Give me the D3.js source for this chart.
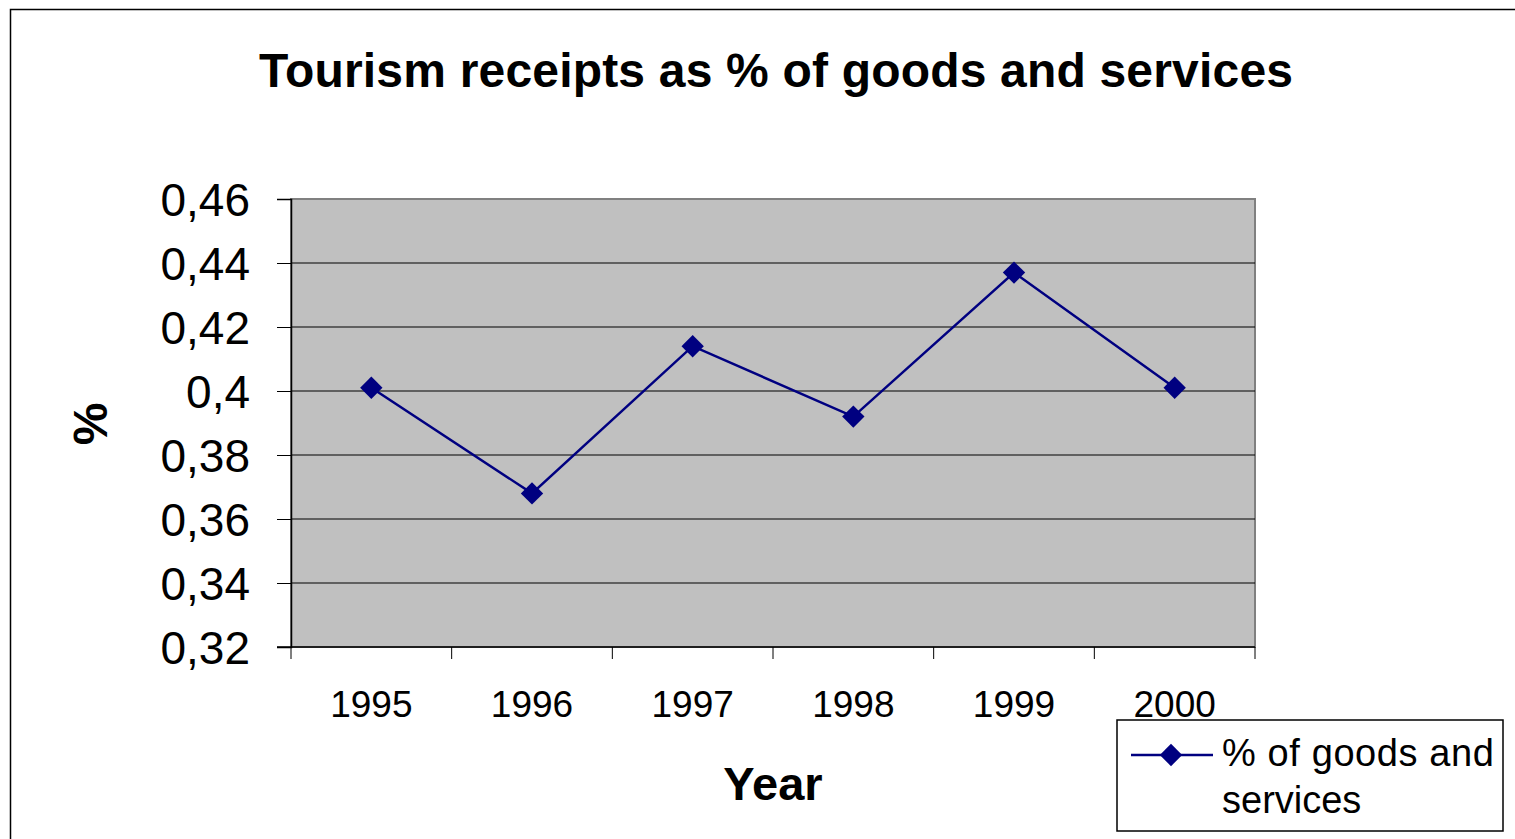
<!DOCTYPE html>
<html>
<head>
<meta charset="utf-8">
<script src="https://cdn.jsdelivr.net/npm/d3@7"></script>
<style>
  body { margin: 0; background: #fff; }
  text { font-family: "Liberation Sans", Arial, sans-serif; }
</style>
</head>
<body>
<div id="plot"></div>
<script>
const years = ["1995", "1996", "1997", "1998", "1999", "2000"];
const receipts = [0.401, 0.368, 0.414, 0.392, 0.437, 0.401];
const yTicks = [0.32, 0.34, 0.36, 0.38, 0.40, 0.42, 0.44, 0.46];
const yTickLabels = ["0,32", "0,34", "0,36", "0,38", "0,4", "0,42", "0,44", "0,46"];

const W = 1515, H = 839;
const plot = { left: 291, top: 199, right: 1255, bottom: 647 };
const navy = "#000080";

const svg = d3.select("#plot")
  .append("svg")
  .attr("width", W)
  .attr("height", H);

// outer chart frame
svg.append("rect")
  .attr("x", 10.5).attr("y", 9.5)
  .attr("width", W + 20).attr("height", H + 20)
  .attr("fill", "#fff")
  .attr("stroke", "#000").attr("stroke-width", 1.5);

const xScale = d3.scaleBand().domain(years).range([plot.left, plot.right]);
const yScale = d3.scaleLinear().domain([0.32, 0.46]).range([plot.bottom, plot.top]);

// plot area
svg.append("rect")
  .attr("x", plot.left).attr("y", plot.top)
  .attr("width", plot.right - plot.left).attr("height", plot.bottom - plot.top)
  .attr("fill", "#c0c0c0")
  .attr("stroke", "#808080").attr("stroke-width", 2);

// gridlines
svg.append("g")
  .selectAll("line")
  .data(yTicks.slice(1, -1))
  .join("line")
  .attr("x1", plot.left).attr("x2", plot.right)
  .attr("y1", d => yScale(d)).attr("y2", d => yScale(d))
  .attr("stroke", "#000").attr("stroke-width", 1);

// y axis
const yAxis = svg.append("g")
  .attr("transform", `translate(${plot.left},0)`)
  .call(d3.axisLeft(yScale)
    .tickValues(yTicks)
    .tickFormat((d, i) => yTickLabels[i])
    .tickSize(14)
    .tickPadding(27));
yAxis.select(".domain").attr("stroke", "#000").attr("stroke-width", 1.5);
yAxis.selectAll(".tick line").attr("stroke", "#000");
yAxis.selectAll("text")
  .attr("font-size", 46)
  .attr("fill", "#000")
  .attr("dy", "0.35em");

// x axis
const xAxis = svg.append("g")
  .attr("transform", `translate(0,${plot.bottom})`)
  .call(d3.axisBottom(xScale).tickSize(0).tickPadding(0));
xAxis.select(".domain").remove();
xAxis.selectAll("text")
  .attr("font-size", 37)
  .attr("fill", "#000")
  .attr("y", 70)
  .attr("dy", 0);
svg.append("line")
  .attr("x1", plot.left - 14).attr("x2", plot.right)
  .attr("y1", plot.bottom).attr("y2", plot.bottom)
  .attr("stroke", "#000").attr("stroke-width", 1.5);
const boundaries = years.map(d => xScale(d)).concat([plot.right]);
svg.append("g")
  .selectAll("line")
  .data(boundaries)
  .join("line")
  .attr("x1", d => d).attr("x2", d => d)
  .attr("y1", plot.bottom).attr("y2", plot.bottom + 12)
  .attr("stroke", "#000");

// series line
const pts = years.map((y, i) => ({ year: y, value: receipts[i] }));
const line = d3.line()
  .x(d => xScale(d.year) + xScale.bandwidth() / 2)
  .y(d => yScale(d.value));

svg.append("path")
  .datum(pts)
  .attr("fill", "none")
  .attr("stroke", navy)
  .attr("stroke-width", 2.5)
  .attr("d", line);

const marker = d3.symbol().type(d3.symbolSquare).size(250);
svg.append("g")
  .selectAll("path")
  .data(pts)
  .join("path")
  .attr("transform", d => `translate(${xScale(d.year) + xScale.bandwidth() / 2},${yScale(d.value)}) rotate(45)`)
  .attr("d", marker)
  .attr("fill", navy);

// titles
svg.append("text")
  .attr("x", 776).attr("y", 87)
  .attr("text-anchor", "middle")
  .attr("font-size", 48).attr("font-weight", "bold")
  .attr("textLength", 1034)
  .text("Tourism receipts as % of goods and services");

svg.append("text")
  .attr("x", 773).attr("y", 800)
  .attr("text-anchor", "middle")
  .attr("font-size", 47).attr("font-weight", "bold")
  .text("Year");

svg.append("text")
  .attr("transform", "translate(107,424) rotate(-90)")
  .attr("text-anchor", "middle")
  .attr("font-size", 48).attr("font-weight", "bold")
  .text("%");

// legend
const legend = svg.append("g");
legend.append("rect")
  .attr("x", 1117).attr("y", 720)
  .attr("width", 386).attr("height", 111)
  .attr("fill", "#fff")
  .attr("stroke", "#000").attr("stroke-width", 1.5);
legend.append("line")
  .attr("x1", 1131).attr("x2", 1213)
  .attr("y1", 755).attr("y2", 755)
  .attr("stroke", navy).attr("stroke-width", 2.5);
legend.append("path")
  .attr("transform", "translate(1171,755) rotate(45)")
  .attr("d", marker)
  .attr("fill", navy);
legend.append("text")
  .attr("x", 1222).attr("y", 766)
  .attr("font-size", 38)
  .attr("textLength", 272)
  .text("% of goods and");
legend.append("text")
  .attr("x", 1222).attr("y", 813)
  .attr("font-size", 38)
  .text("services");
</script>
</body>
</html>
